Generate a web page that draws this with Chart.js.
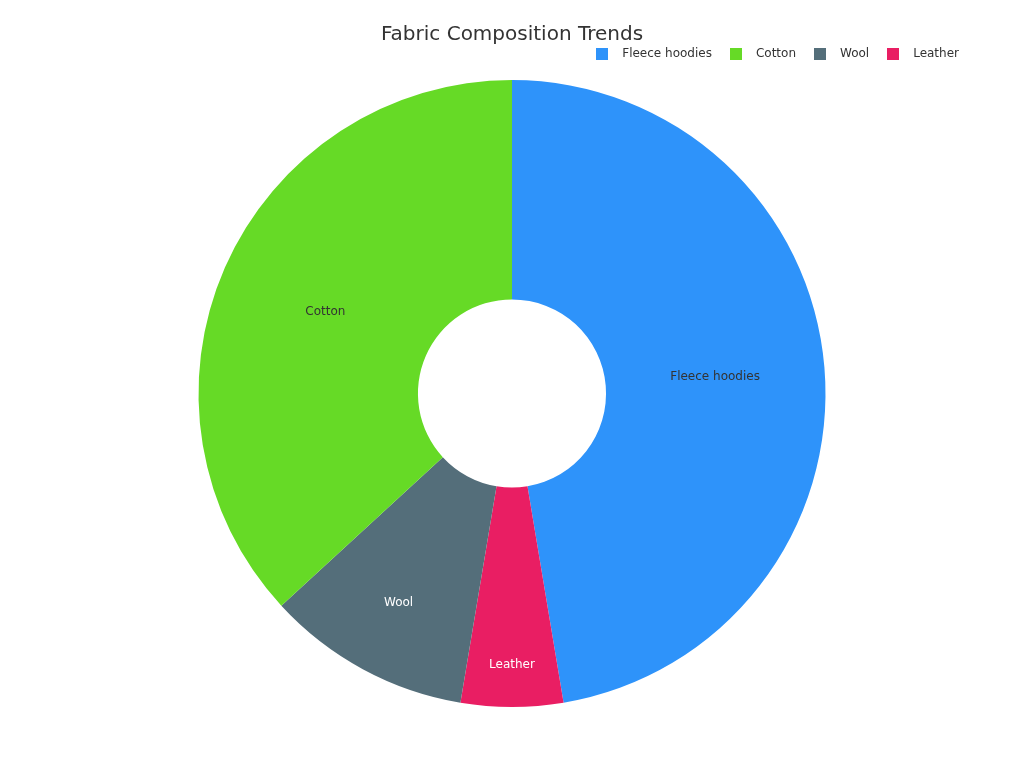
<!DOCTYPE html>
<html lang="en">
	<head>
		<meta charset="utf-8" />
		<title>Fabric Composition Trends</title>
		<script src="https://cdn.jsdelivr.net/npm/chart.js@4"></script>
		<style>
			html, body { margin: 0; padding: 0; background: #fff; }
			#wrap { width: 1024px; height: 768px; }
		</style>
	</head>

	<body>
		<div id="wrap"><canvas id="myChart" width="1024" height="768"></canvas></div>

		<script>
			// slices in drawing order (clockwise from 12 o'clock)
			var labels = ["Fleece hoodies", "Leather", "Wool", "Cotton"];
			var values = [45, 5, 10, 35];
			var colors = ["#2E93fA", "#E91E63", "#546E7A", "#66DA26"];
			var labelColors = ["#333333", "#ffffff", "#ffffff", "#333333"];
			// legend shows them in another order
			var legendOrder = ["Fleece hoodies", "Cotton", "Wool", "Leather"];

			Chart.defaults.font.family = "'DejaVu Sans', sans-serif";

			// small square swatch for the legend, so the text can sit further right
			function swatch(color) {
				var c = document.createElement("canvas");
				c.width = 12;
				c.height = 12;
				var g = c.getContext("2d");
				g.fillStyle = color;
				g.fillRect(0, 0, 12, 12);
				return c;
			}

			// draws the slice name inside each slice
			var sliceLabels = {
				id: "sliceLabels",
				afterDatasetsDraw: function (chart, args, opts) {
					var ctx = chart.ctx;
					var meta = chart.getDatasetMeta(0);
					ctx.save();
					ctx.font = "12px 'DejaVu Sans', sans-serif";
					ctx.textAlign = "center";
					ctx.textBaseline = "middle";
					meta.data.forEach(function (arc, i) {
						var p = arc.getProps(["x", "y", "startAngle", "endAngle", "outerRadius"], true);
						var mid = (p.startAngle + p.endAngle) / 2;
						var r = p.outerRadius * opts.radius[i];
						ctx.fillStyle = labelColors[i];
						ctx.fillText(labels[i], p.x + Math.cos(mid) * r, p.y + Math.sin(mid) * r);
					});
					ctx.restore();
				},
			};

			// extra room under the legend
			var legendGap = {
				id: "legendGap",
				beforeInit: function (chart) {
					var fit = chart.legend.fit;
					chart.legend.fit = function () {
						fit.bind(chart.legend)();
						this.height += 10;
					};
				},
			};

			var ctx = document.getElementById("myChart").getContext("2d");
			var myChart = new Chart(ctx, {
				type: "doughnut",
				data: {
					labels: labels,
					datasets: [
						{
							data: values,
							backgroundColor: colors,
							borderWidth: 0,
						},
					],
				},
				options: {
					responsive: false,
					animation: false,
					cutout: "30%",
					layout: {
						padding: { left: 55, right: 55, bottom: 61 },
					},
					plugins: {
						title: {
							display: true,
							text: "Fabric Composition Trends",
							color: "#333333",
							font: { size: 20, weight: "normal" },
							padding: { top: 23, bottom: -9 },
						},
						legend: {
							display: true,
							position: "top",
							align: "end",
							labels: {
								usePointStyle: true,
								pointStyleWidth: 28,
								boxHeight: 12,
								padding: 10,
								color: "#333333",
								font: { size: 12 },
								generateLabels: function (chart) {
									var items = Chart.overrides.doughnut.plugins.legend.labels.generateLabels(chart);
									items.forEach(function (item) {
										item.pointStyle = swatch(item.fillStyle);
									});
									return items;
								},
								sort: function (a, b) {
									return legendOrder.indexOf(a.text) - legendOrder.indexOf(b.text);
								},
							},
						},
						tooltip: { enabled: false },
						sliceLabels: {
							radius: [0.65, 0.865, 0.76, 0.65],
						},
					},
				},
				plugins: [sliceLabels, legendGap],
			});
		</script>
	</body>
</html>
